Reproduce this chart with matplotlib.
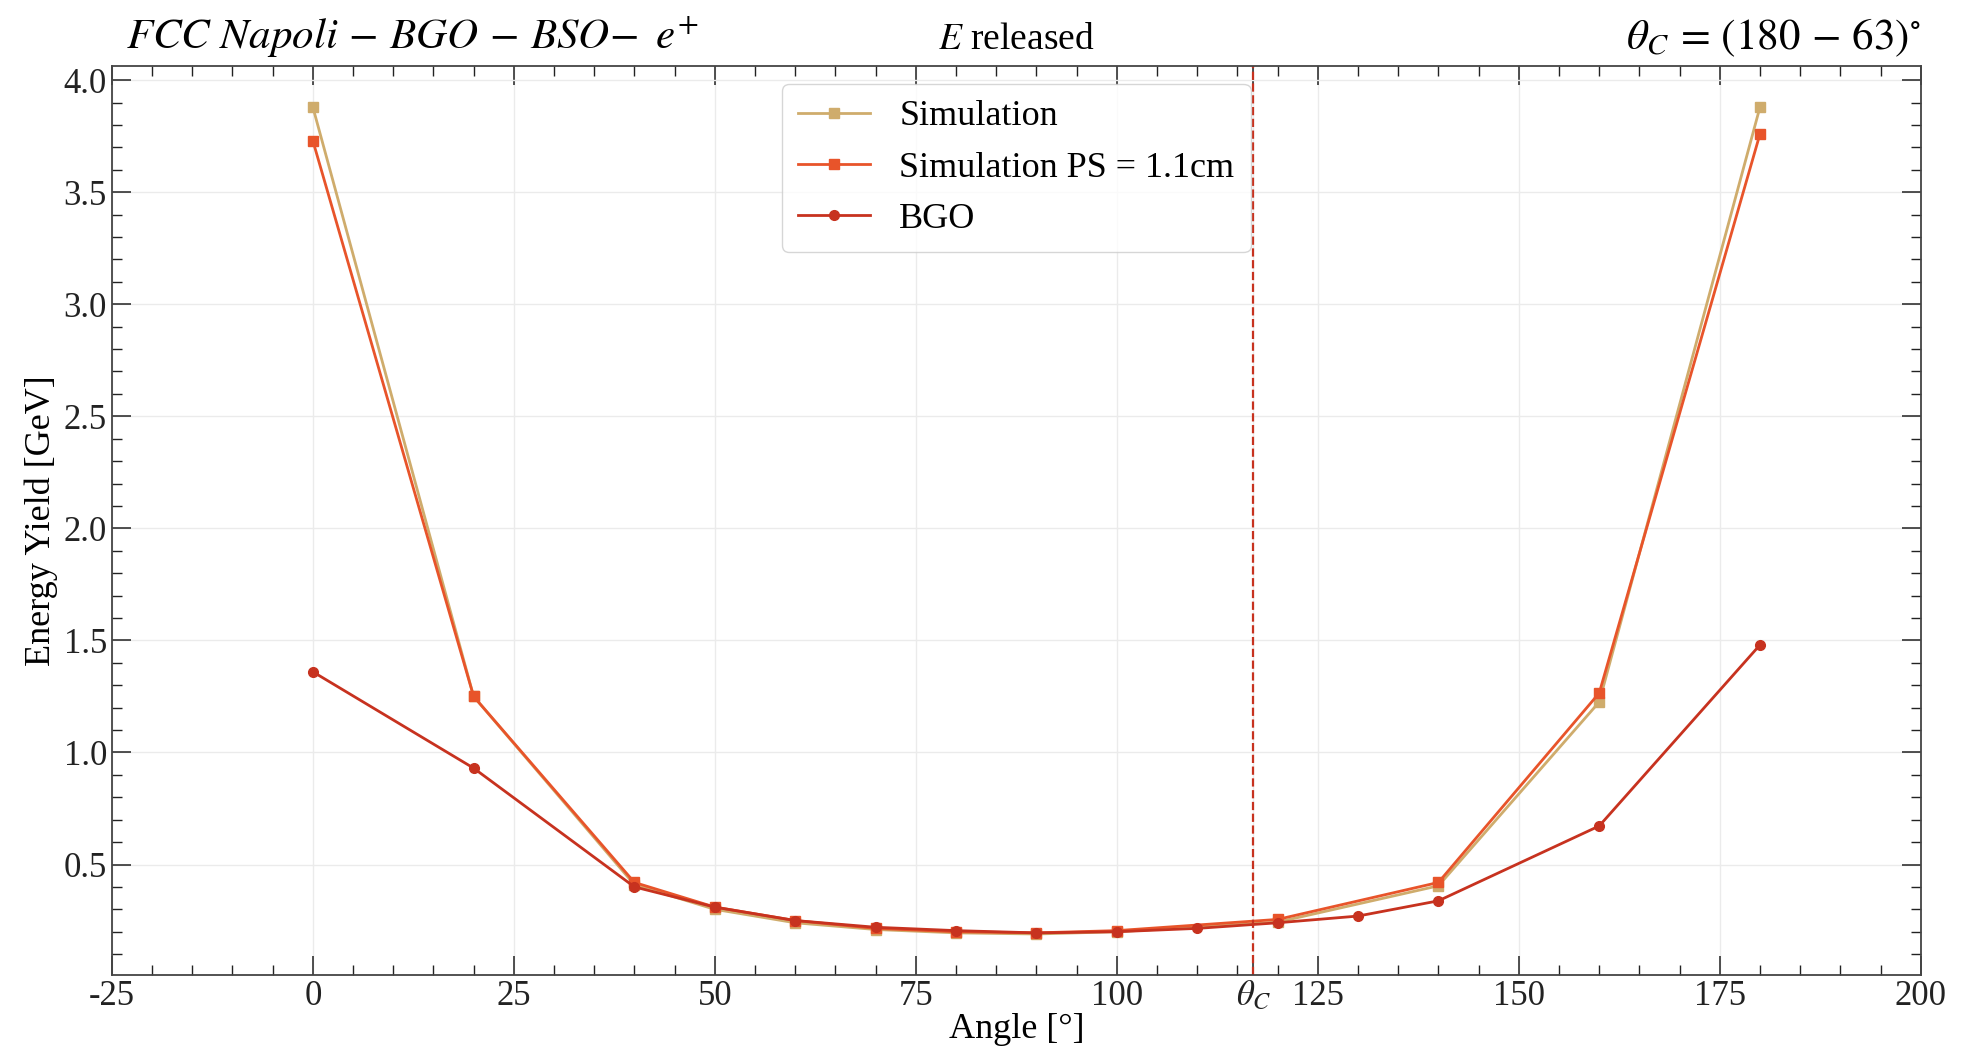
import numpy as np
import matplotlib
matplotlib.use("Agg")
import matplotlib.pyplot as plt
from matplotlib.ticker import MultipleLocator

plt.rcParams['font.family'] = ['Liberation Serif', 'DejaVu Serif']
plt.rcParams['mathtext.fontset'] = 'stix'

# data
angle_sim = [0, 20, 40, 50, 60, 70, 80, 90, 100, 120, 140, 160, 180]
e_sim = [3.88, 1.25, 0.41, 0.30, 0.24, 0.21, 0.195, 0.19, 0.20, 0.243, 0.405, 1.225, 3.88]
e_sim_ps = [3.73, 1.25, 0.42, 0.31, 0.25, 0.215, 0.20, 0.195, 0.205, 0.255, 0.42, 1.265, 3.76]

angle_bgo = [0, 20, 40, 50, 60, 70, 80, 90, 100, 110, 120, 130, 140, 160, 180]
e_bgo = [1.36, 0.93, 0.40, 0.31, 0.25, 0.22, 0.205, 0.195, 0.20, 0.215, 0.24, 0.27, 0.338, 0.672, 1.48]

theta_c = 180 - 63
xticks = [-25, 0, 25, 50, 75, 100, theta_c, 125, 150, 175, 200]
xticklabels = ['-25', '0', '25', '50', '75', '100', r'$\theta_C$', '125', '150', '175', '200']

fig, ax = plt.subplots(figsize=(19.62, 10.59), dpi=100)
fig.subplots_adjust(left=0.057, right=0.979, top=0.938, bottom=0.079)

ax.plot(angle_sim, e_sim, '-s', color='#cfac6c', lw=2, ms=7, label='Simulation')
ax.plot(angle_sim, e_sim_ps, '-s', color='#e8542a', lw=2, ms=7, label='Simulation PS = 1.1cm')
ax.plot(angle_bgo, e_bgo, '-o', color='#c7321f', lw=2, ms=7, label='BGO')
ax.axvline(theta_c, color='#c7321f', ls='--', lw=1.6)

ax.set_xlim(-25, 200)
ax.set_xticks(xticks)
ax.set_xticklabels(xticklabels)
ax.xaxis.set_minor_locator(MultipleLocator(5))
ax.yaxis.set_major_locator(MultipleLocator(0.5))
ax.yaxis.set_minor_locator(MultipleLocator(0.1))
ax.tick_params(which='both', direction='in', top=True, right=True, labelsize=25, colors='#222222')
ax.tick_params(which='major', length=14, width=1.1)
ax.tick_params(which='minor', length=7, width=1.0)
ax.grid(True, which='major', color='#ebebeb', lw=1)
ax.set_axisbelow(True)
for s in ax.spines.values():
    s.set_color('#444444')
    s.set_linewidth(1.3)

ax.set_xlabel('Angle [°]', fontsize=26, labelpad=0)
ax.set_ylabel('Energy Yield [GeV]', fontsize=26, labelpad=4)
ax.set_title(r'$FCC\ Napoli\,-\,BGO\,-\,BSO\!-\ e^{+}$', loc='left', fontsize=31, pad=12, x=0.008)
ax.set_title(r'$E$ released', loc='center', fontsize=27, pad=4)
ax.set_title(r'$\theta_C\,=\,(180\,-\,63)^{\circ}$', loc='right', fontsize=31, pad=12)

leg = ax.legend(loc='upper center', bbox_to_anchor=(0.5, 1.0), fontsize=26, frameon=True,
                fancybox=True, edgecolor='#cccccc', handlelength=2.0, borderpad=0.45,
                labelspacing=0.5)
leg.get_frame().set_linewidth(1.0)

fig.savefig('out.png', dpi=100)
